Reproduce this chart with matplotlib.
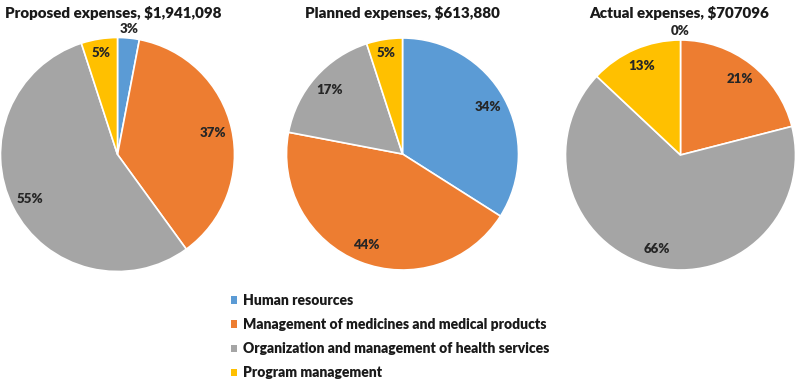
import matplotlib
matplotlib.use("Agg")
import matplotlib.pyplot as plt
from matplotlib.patches import Patch
import numpy as np

categories = ["Human resources",
              "Management of medicines and medical products",
              "Organization and management of health services",
              "Program management"]
titles = ["Proposed expenses, $1,941,098",
          "Planned expenses, $613,880",
          "Actual expenses, $707096"]
proposed = [3, 37, 55, 5]
planned = [34, 44, 17, 5]
actual = [0, 21, 66, 13]
colors = ["#5B9BD5", "#ED7D31", "#A5A5A5", "#FFC000"]

plt.rcParams['font.family'] = ['Lato', 'DejaVu Sans']

W, H = 800, 385
fig = plt.figure(figsize=(8, 3.85), dpi=100)

# (center x, center y, radius, title x) in pixels
layout = [(117.5, 154.5, 117, 113), (402.5, 154, 116, 402), (680.5, 155, 115, 679.5)]
for vals, title, (cx, cy, r, tx) in zip([proposed, planned, actual], titles, layout):
    ax = fig.add_axes([(cx - r) / W, (H - cy - r) / H, 2 * r / W, 2 * r / H])
    wedges, _ = ax.pie(vals, colors=colors, startangle=90, counterclock=False, radius=1,
                       wedgeprops=dict(edgecolor='white', linewidth=1.2))
    ax.set_xlim(-1, 1)
    ax.set_ylim(-1, 1)
    ax.axis('off')
    for w, v in zip(wedges, vals):
        ang = np.deg2rad((w.theta1 + w.theta2) / 2)
        d = 1.08 if v < 4 else (0.88 if v < 10 else 0.84)
        ax.text(d * np.cos(ang), d * np.sin(ang), f"{v}%", ha='center', va='center',
                fontsize=9.5, fontweight='heavy', color='#262626')
    fig.text(tx / W, 1 - 13 / H, title, ha='center', va='center',
             fontsize=10.9, fontweight='heavy', color='#1a1a1a')

handles = [Patch(facecolor=c, edgecolor='none') for c in colors]
fig.legend(handles=handles, labels=categories, loc='upper left',
           bbox_to_anchor=(231 / W, 1 - 294 / H), frameon=False,
           prop={'size': 10, 'weight': 'heavy'}, handlelength=0.44, handleheight=0.44,
           handletextpad=0.45, labelspacing=0.8, borderaxespad=0, borderpad=0,
           labelcolor='#1a1a1a')

fig.savefig("out.png", dpi=100)
